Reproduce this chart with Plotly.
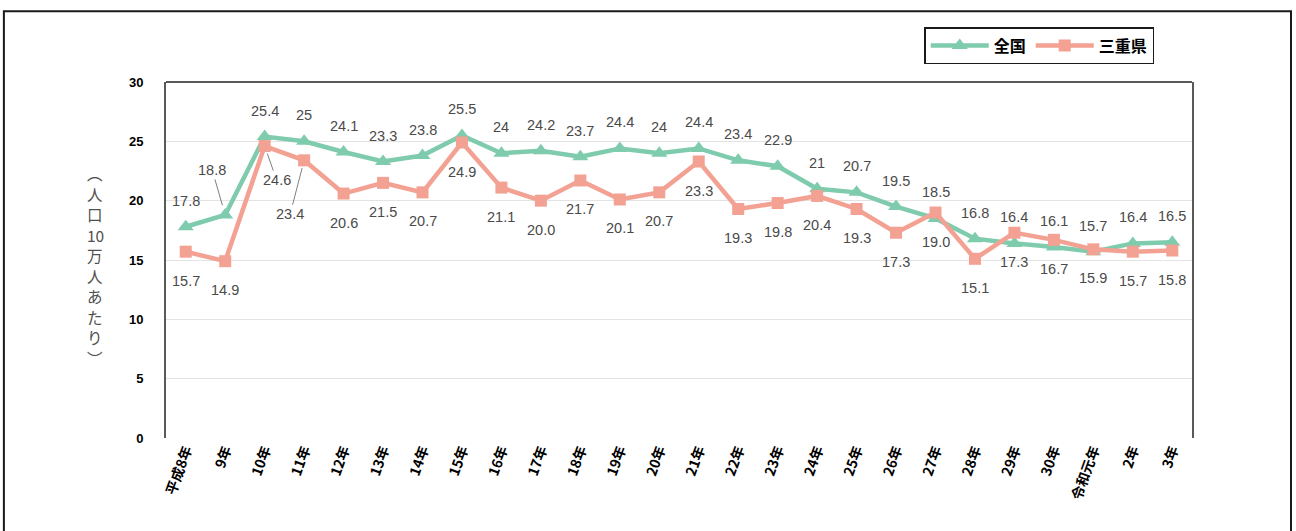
import plotly.graph_objects as go

categories = ["平成8年", "9年", "10年", "11年", "12年", "13年", "14年", "15年", "16年", "17年",
              "18年", "19年", "20年", "21年", "22年", "23年", "24年", "25年", "26年", "27年",
              "28年", "29年", "30年", "令和元年", "2年", "3年"]
national = [17.8, 18.8, 25.4, 25, 24.1, 23.3, 23.8, 25.5, 24, 24.2,
            23.7, 24.4, 24, 24.4, 23.4, 22.9, 21, 20.7, 19.5, 18.5,
            16.8, 16.4, 16.1, 15.7, 16.4, 16.5]
mie = [15.7, 14.9, 24.6, 23.4, 20.6, 21.5, 20.7, 24.9, 21.1, 20.0,
       21.7, 20.1, 20.7, 23.3, 19.3, 19.8, 20.4, 19.3, 17.3, 19.0,
       15.1, 17.3, 16.7, 15.9, 15.7, 15.8]
mie_text = ["15.7", "14.9", "24.6", "23.4", "20.6", "21.5", "20.7", "24.9", "21.1", "20.0",
            "21.7", "20.1", "20.7", "23.3", "19.3", "19.8", "20.4", "19.3", "17.3", "19.0",
            "15.1", "17.3", "16.7", "15.9", "15.7", "15.8"]
y_ticks = [0, 5, 10, 15, 20, 25, 30]
ytitle_chars = ["︵", "人", "口", "10", "万", "人", "あ", "た", "り", "︶"]

GREEN = "#7fcbad"
SALMON = "#f3a192"
LABEL_COLOR = "#4a4a4a"
LABEL_FONT = dict(family="Liberation Sans, Arial", size=14.5, color=LABEL_COLOR)

# Leader-line labels (index -> pixel offsets of label from point)
nat_leader = {1: (-13, -45)}
mie_leader = {2: (12, 34), 3: (-14, 54)}

fig = go.Figure()
fig.add_trace(go.Scatter(
    x=categories, y=national, name="全国", mode="lines+markers",
    line=dict(color=GREEN, width=4.5),
    marker=dict(symbol="triangle-up", size=14, color=GREEN),
))
fig.add_trace(go.Scatter(
    x=categories, y=mie, name="三重県", mode="lines+markers",
    line=dict(color=SALMON, width=4.5),
    marker=dict(symbol="square", size=12, color=SALMON),
))

annotations = []
for i, (c, v) in enumerate(zip(categories, national)):
    txt = f"{v:g}"
    if i in nat_leader:
        ax, ay = nat_leader[i]
        annotations.append(dict(x=c, y=v, xref="x", yref="y", text=txt, showarrow=True,
                                ax=ax, ay=ay, arrowhead=0, arrowwidth=1, arrowcolor="#7f7f7f",
                                standoff=10, font=LABEL_FONT))
    else:
        annotations.append(dict(x=c, y=v, xref="x", yref="y", text=txt, showarrow=False,
                                yshift=26, font=LABEL_FONT))
for i, (c, v) in enumerate(zip(categories, mie)):
    txt = mie_text[i]
    if i in mie_leader:
        ax, ay = mie_leader[i]
        annotations.append(dict(x=c, y=v, xref="x", yref="y", text=txt, showarrow=True,
                                ax=ax, ay=ay, arrowhead=0, arrowwidth=1, arrowcolor="#7f7f7f",
                                standoff=8, font=LABEL_FONT))
    else:
        annotations.append(dict(x=c, y=v, xref="x", yref="y", text=txt, showarrow=False,
                                yshift=-29, font=LABEL_FONT))

# vertical y-axis title, one character per annotation
PLOT_H = 356.0
for k, ch in enumerate(ytitle_chars):
    py = 173 + k * 20.5          # pixel centre from top of figure
    annotations.append(dict(x=-0.069, y=(438 - py) / PLOT_H, xref="paper", yref="paper",
                            text=ch, showarrow=False, xanchor="center", yanchor="middle",
                            font=dict(family="Noto Sans CJK JP", size=15.5, color="#505050")))

shapes = [
    # outer frame
    dict(type="rect", xref="paper", yref="paper", x0=-0.158, x1=1.0965, y0=-0.3, y1=1.199,
         line=dict(color="#1a1a1a", width=2), fillcolor="rgba(0,0,0,0)", layer="below"),
    # top line of plot frame
    dict(type="line", xref="paper", yref="paper", x0=0, x1=1, y0=1, y1=1,
         line=dict(color="#595959", width=2)),
]

fig.update_layout(
    width=1296, height=531,
    margin=dict(l=166, r=104, t=82, b=93),
    paper_bgcolor="white", plot_bgcolor="white",
    font=dict(family="Liberation Sans, Noto Sans CJK JP", color="black"),
    showlegend=True,
    legend=dict(orientation="h", x=0.739, y=1.154, xanchor="left", yanchor="top",
                bordercolor="#1a1a1a", borderwidth=1.5, bgcolor="white",
                font=dict(family="Noto Sans CJK JP", size=16, color="black", weight="bold"),
                itemwidth=58, tracegroupgap=0),
    xaxis=dict(type="category", range=[-0.5, len(categories) - 0.5], showgrid=False,
               showline=False, zeroline=False, ticks="", tickangle=-70,
               tickfont=dict(family="Noto Sans CJK JP", size=14, color="black", weight="bold")),
    yaxis=dict(range=[0, 30], tickvals=y_ticks, showgrid=True, gridcolor="#e3e3e3", gridwidth=1,
               showline=True, mirror=True, linecolor="#595959", linewidth=2, zeroline=False,
               ticks="", ticklabelstandoff=18,
               tickfont=dict(family="Liberation Sans, Arial", size=13, color="black", weight="bold")),
    annotations=annotations,
    shapes=shapes,
)

fig.write_html("out.html", config={"displayModeBar": False},
               post_script="document.body.style.margin='0';")
